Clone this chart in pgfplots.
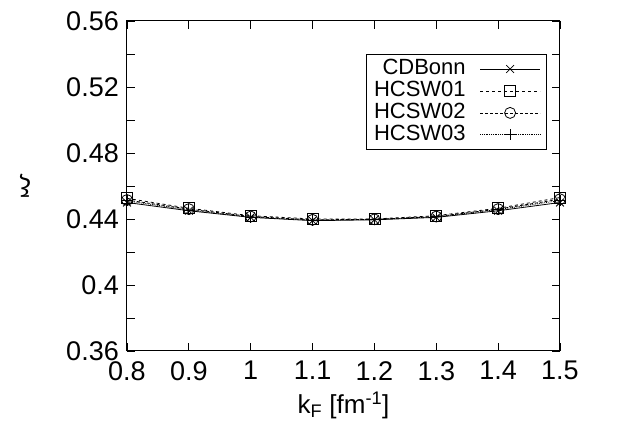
\documentclass[border=0pt]{standalone}
\usepackage{fontspec}
\setmainfont{Liberation Sans}
\usepackage{pgfplots}
\pgfplotsset{compat=1.18}

\begin{document}
\fontsize{24}{28}\selectfont
\begin{tikzpicture}
  \path[use as bounding box] (-127pt,-72pt) rectangle (492pt,351pt);
  \begin{axis}[
    at={(0,0)}, anchor=south west,
    scale only axis,
    width=433pt, height=330pt,
    xmin=0.8, xmax=1.5,
    ymin=0.36, ymax=0.56,
    xtick={0.8,0.9,...,1.5},
    ytick={0.36,0.40,0.44,0.48,0.52,0.56},
    minor ytick={0.38,0.42,0.46,0.50,0.54},
    yticklabels={0.36,0.4,0.44,0.48,0.52,0.56},
    xticklabels={0.8,0.9,1,1.1,1.2,1.3,1.4,1.5},
    tick align=inside, tick pos=both,
    major tick length=8pt, minor tick length=8pt,
    /pgf/number format/assume math mode=true,
    ticklabel style={font=\fontsize{27}{30}\selectfont},
    xticklabel style={yshift=-2pt},
    axis line style={line width=1pt},
    every tick/.style={black, line width=0.8pt},
    xlabel={k\textsubscript{F} [fm\textsuperscript{-1}]},
    ylabel={ξ},
    xlabel style={at={(axis description cs:0.5,-0.165)}, anchor=center, font=\fontsize{26}{28}\selectfont},
    ylabel style={at={(axis description cs:-0.235,0.5)}, anchor=center, rotate=90, font=\fontsize{26}{28}\selectfont},
    legend style={at={(0.97,0.9)}, anchor=north east, draw=black, line width=1pt,
      font=\fontsize{22}{24}\selectfont, row sep=-1pt, inner xsep=6pt, inner ysep=3pt,
      /tikz/every odd column/.append style={column sep=12pt}},
    legend plot pos=right,
    legend cell align=right,
    legend image code/.code={\draw[mark repeat=2,mark phase=2] plot coordinates {(0pt,0pt)(30pt,0pt)(60pt,0pt)};},
    every axis plot/.append style={black, line width=0.8pt, mark size=5.5pt, mark options={solid, line width=0.8pt}},
  ]
  \addplot[mark=x] coordinates {(0.8,0.4500) (0.9,0.4450) (1.0,0.4410) (1.1,0.4390) (1.2,0.4395) (1.3,0.4410) (1.4,0.4450) (1.5,0.4500)};
  \addplot[dashed, mark=square] coordinates {(0.8,0.4525) (0.9,0.4465) (1.0,0.4420) (1.1,0.4400) (1.2,0.4400) (1.3,0.4420) (1.4,0.4465) (1.5,0.4530)};
  \addplot[densely dashed, mark=o] coordinates {(0.8,0.4515) (0.9,0.4460) (1.0,0.4415) (1.1,0.4395) (1.2,0.4398) (1.3,0.4415) (1.4,0.4460) (1.5,0.4520)};
  \addplot[densely dotted, mark=+] coordinates {(0.8,0.4510) (0.9,0.4455) (1.0,0.4412) (1.1,0.4393) (1.2,0.4397) (1.3,0.4413) (1.4,0.4457) (1.5,0.4512)};
  \legend{CDBonn,HCSW01,HCSW02,HCSW03}
  \end{axis}
\end{tikzpicture}
\end{document}
